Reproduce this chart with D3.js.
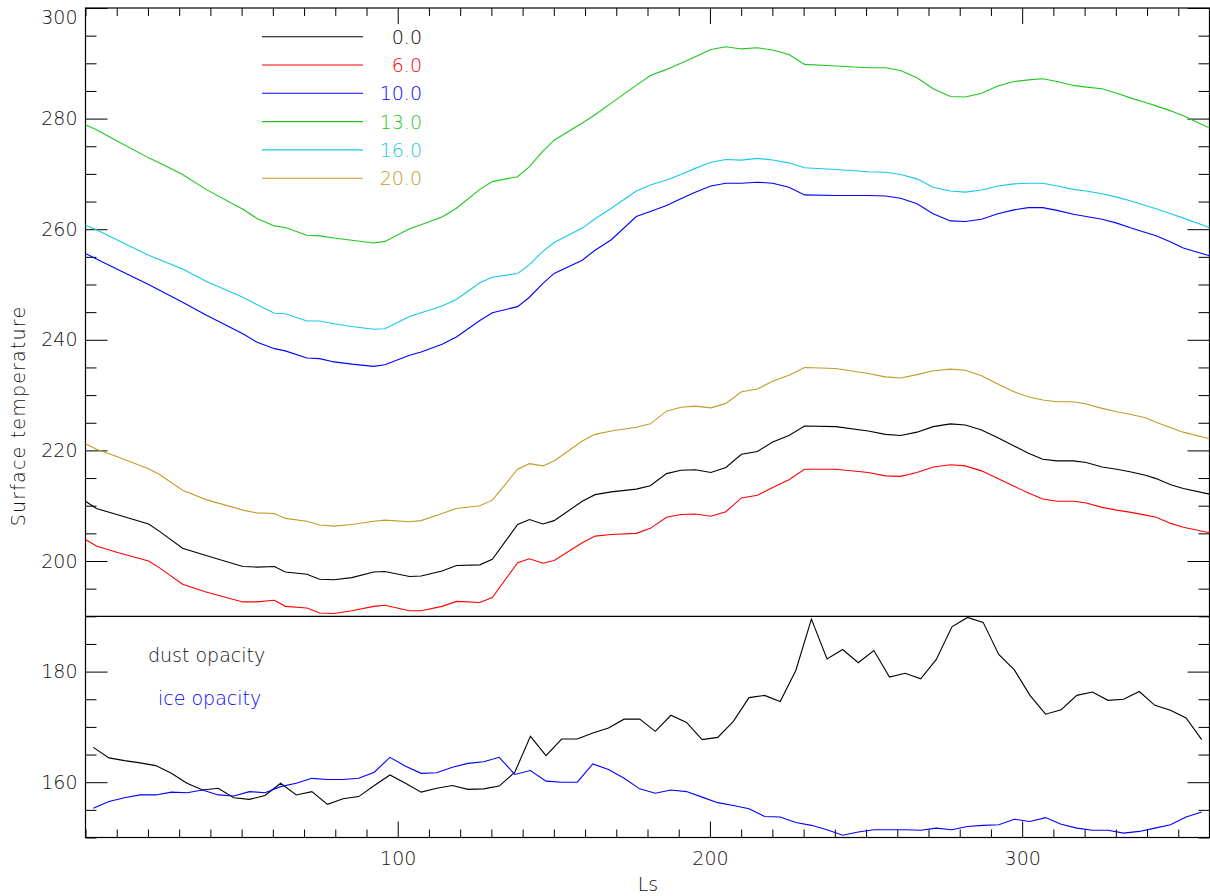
<!DOCTYPE html>
<html>
<head>
<meta charset="utf-8">
<script src="https://cdn.jsdelivr.net/npm/d3@7"></script>
<style>
  html,body{margin:0;padding:0;background:#fff;}
  svg{display:block;}
  text{font-family:'DejaVu Sans',sans-serif;font-weight:200;}
</style>
</head>
<body>
<svg width="1210" height="896"></svg>
<script>
const svg=d3.select('svg');
const width=+svg.attr('width');
const height=+svg.attr('height');
const box={left:85.5,right:1209.5,top:8,bottom:837.5};

/* upper panel: surface temperature vs Ls */
const upperLs=[0,3.5,10,20.2,23.6,31.1,38.6,50.4,54.8,60.5,64,70.9,75,79.6,85.3,92.3,95.9,103.8,107.5,114.2,
  118.8,126.3,130.3,138.4,142.2,146.5,150.1,159.1,163.2,168.4,176.4,180.9,186.1,190.7,195.3,200.3,205.1,210.1,215.2,220.1,
  225.3,230.3,240.3,250.7,256.2,261.1,266.3,271.5,277.0,281.8,287.0,292.2,297.4,302.0,306.6,311.2,316.4,320.5,325.6,330.3,
  334.9,339.5,342.9,347.6,351.6,360];
const temp00=[210.8,209.5,208.4,206.7,205.4,202.3,201.0,199.0,198.9,199.0,198.0,197.6,196.7,196.6,197.0,198.0,198.1,197.2,197.3,198.2,
  199.2,199.3,200.3,206.6,207.5,206.7,207.3,210.8,212.0,212.5,213.0,213.6,215.8,216.4,216.5,216.0,216.9,219.3,219.8,221.5,
  222.7,224.4,224.3,223.5,222.9,222.7,223.3,224.3,224.8,224.6,223.7,222.3,220.8,219.5,218.4,218.1,218.1,217.8,217.0,216.6,
  216.1,215.5,214.9,213.8,213.1,212.1];
const temp06=[203.9,202.7,201.6,200.0,198.8,195.8,194.4,192.6,192.6,192.9,191.8,191.5,190.6,190.5,191.0,191.8,192.0,191.0,191.0,191.8,
  192.7,192.5,193.4,199.7,200.4,199.6,200.1,203.3,204.5,204.8,205.0,205.9,207.9,208.4,208.5,208.1,208.9,211.4,211.9,213.3,
  214.7,216.6,216.6,216.0,215.4,215.3,216.0,217.0,217.4,217.2,216.3,214.9,213.5,212.3,211.2,210.8,210.8,210.5,209.7,209.2,
  208.8,208.3,207.9,206.8,206.1,205.1];
const temp10=[255.6,254.6,252.8,250.0,249.0,246.8,244.5,241.1,239.6,238.4,238.0,236.7,236.6,236.0,235.6,235.2,235.5,237.2,237.8,239.2,
  240.5,243.5,244.9,246.0,247.7,250.2,252.0,254.4,256.2,258.1,262.3,263.2,264.3,265.5,266.7,267.8,268.3,268.3,268.5,268.3,
  267.6,266.2,266.1,266.1,266.0,265.6,264.6,262.8,261.5,261.4,261.8,262.8,263.5,263.9,263.9,263.4,262.7,262.3,261.8,261.1,
  260.2,259.4,258.8,257.7,256.6,255.2];
const temp13=[278.9,278.0,276.0,272.9,272.0,269.9,267.2,263.6,262.0,260.6,260.3,258.9,258.8,258.4,258.0,257.5,257.8,260.1,260.8,262.2,
  263.8,267.2,268.6,269.5,271.3,274.1,276.1,279.2,280.7,282.8,286.0,287.8,288.9,290.0,291.2,292.5,293.0,292.6,292.8,292.4,
  291.6,289.8,289.5,289.2,289.2,288.7,287.4,285.4,284.0,283.9,284.6,285.9,286.7,287.0,287.2,286.7,286.0,285.7,285.4,284.6,
  283.7,282.9,282.3,281.4,280.5,278.3];
const temp16=[260.7,259.9,258.1,255.3,254.5,252.8,250.6,247.7,246.4,244.8,244.7,243.4,243.4,242.9,242.4,241.9,242.0,244.2,244.9,246.1,
  247.3,250.3,251.3,252.0,253.6,256.0,257.6,260.2,261.9,263.8,266.9,268.0,268.9,269.9,271.0,272.1,272.6,272.5,272.8,272.5,
  272.0,271.1,270.8,270.4,270.3,269.9,269.1,267.6,266.9,266.7,267.1,267.8,268.2,268.3,268.3,267.8,267.2,266.9,266.4,265.8,
  265.1,264.3,263.7,262.8,262.0,260.3];
const temp20=[221.2,220.2,218.9,216.7,215.7,212.8,211.1,209.2,208.7,208.6,207.7,207.2,206.5,206.3,206.6,207.2,207.4,207.1,207.3,208.6,
  209.5,210.0,211.0,216.6,217.6,217.2,218.1,221.7,222.9,223.5,224.2,224.8,227.1,227.8,228.0,227.7,228.5,230.6,231.1,232.5,
  233.6,235.0,234.8,233.9,233.3,233.1,233.7,234.4,234.7,234.5,233.5,232.0,230.6,229.7,229.1,228.8,228.8,228.4,227.6,227.0,
  226.5,225.9,225.1,224.1,223.3,222.1];
const seriesNames=['0.0','6.0','10.0','13.0','16.0','20.0'];
const seriesValues=[temp00,temp06,temp10,temp13,temp16,temp20];
const seriesColors=['#000000','#ff0000','#0000ff','#1ec81e','#18c8e8','#c49a28'];

/* lower panel: opacities (plotted on the same axis) */
const lowerLs=[2.5,7.5,12.5,17.5,22.5,27.5,32.5,37.5,42.5,47.5,52.5,57.5,62.5,67.5,72.5,77.5,82.5,87.5,92.5,97.5,
  102.5,107.5,112.5,117.5,122.5,127.5,132.5,137.5,142.5,147.5,152.5,157.5,162.5,167.5,172.5,177.5,182.5,187.5,192.5,197.5,
  202.5,207.5,212.5,217.5,222.5,227.5,232.5,237.5,242.5,247.5,252.5,257.5,262.5,267.5,272.5,277.5,282.5,287.5,292.5,297.5,
  302.5,307.5,312.5,317.5,322.5,327.5,332.5,337.5,342.5,347.5,352.5,357.5];
const dustOpacity=[166.3,164.4,163.9,163.5,163.0,161.6,159.8,158.6,158.9,157.2,156.9,157.6,159.8,157.7,158.3,156.0,157.0,157.4,159.4,161.3,
  159.8,158.2,158.9,159.4,158.7,158.8,159.3,161.8,168.3,164.8,167.8,167.8,168.9,169.8,171.4,171.4,169.2,172.1,170.8,167.7,
  168.1,171.0,175.3,175.7,174.6,180.2,189.5,182.3,184.0,181.6,183.8,179.0,179.7,178.7,182.2,188.1,189.8,188.9,183.1,180.3,
  175.7,172.3,173.1,175.7,176.3,174.8,175.0,176.4,173.9,173.0,171.6,167.7];
const iceOpacity=[155.3,156.5,157.2,157.7,157.7,158.2,158.1,158.6,157.7,157.5,158.3,158.1,159.2,159.8,160.7,160.5,160.5,160.7,161.8,164.5,
  162.9,161.6,161.7,162.7,163.4,163.7,164.5,161.4,162.1,160.2,160.0,160.0,163.3,162.3,160.7,158.8,158.0,158.6,158.3,157.3,
  156.3,155.8,155.2,153.8,153.7,152.7,152.2,151.4,150.4,151.0,151.4,151.4,151.4,151.3,151.7,151.4,152.0,152.2,152.3,153.3,
  152.9,153.6,152.4,151.7,151.3,151.3,150.8,151.1,151.7,152.3,153.7,154.6];

/* ticks */
const yMajorTicks=[160,180,200,220,240,260,280,300];
const yMinorTicks=d3.range(150,301,5).filter(v=>!yMajorTicks.includes(v));
const xMajorTicks=[100,200,300];
const xMinorTicks=d3.range(0,361,10).filter(v=>!xMajorTicks.includes(v));
const panelSplit=190;

const x=d3.scaleLinear().domain([0,360]).range([box.left,box.right]);
const y=d3.scaleLinear().domain([150,300]).range([box.bottom,box.top]);

const fontSize=19;

/* axes */
const gAxes=svg.append('g');
const axisStyle=g=>{
  g.select('.domain').remove();
  g.selectAll('line').attr('stroke','#000').attr('stroke-width',1);
  g.selectAll('text').attr('fill','#111').style('font-size',fontSize+'px');
};
gAxes.append('g').attr('transform',`translate(${box.left},0)`)
  .call(d3.axisLeft(y).tickValues(yMajorTicks).tickSize(-22).tickPadding(8).tickFormat(d3.format('d')))
  .call(axisStyle)
  .call(g=>g.selectAll('.tick').filter(d=>d===300).select('text').attr('y',9.5));
gAxes.append('g').attr('transform',`translate(${box.left},0)`)
  .call(d3.axisLeft(y).tickValues(yMinorTicks).tickSize(-11).tickFormat(''))
  .call(axisStyle);
gAxes.append('g').attr('transform',`translate(${box.right},0)`)
  .call(d3.axisRight(y).tickValues(yMajorTicks).tickSize(-22).tickFormat(''))
  .call(axisStyle);
gAxes.append('g').attr('transform',`translate(${box.right},0)`)
  .call(d3.axisRight(y).tickValues(yMinorTicks).tickSize(-11).tickFormat(''))
  .call(axisStyle);
gAxes.append('g').attr('transform',`translate(0,${box.bottom})`)
  .call(d3.axisBottom(x).tickValues(xMajorTicks).tickSize(-16).tickPadding(14).tickFormat(d3.format('d')))
  .call(axisStyle)
  .call(g=>g.selectAll('text').attr('dy','0.71em'));
gAxes.append('g').attr('transform',`translate(0,${box.bottom})`)
  .call(d3.axisBottom(x).tickValues(xMinorTicks).tickSize(-8).tickFormat(''))
  .call(axisStyle);
gAxes.append('g').attr('transform',`translate(0,${box.top})`)
  .call(d3.axisTop(x).tickValues(xMajorTicks).tickSize(-16).tickFormat(''))
  .call(axisStyle);
gAxes.append('g').attr('transform',`translate(0,${box.top})`)
  .call(d3.axisTop(x).tickValues(xMinorTicks).tickSize(-8).tickFormat(''))
  .call(axisStyle);

// frame + separator between panels
svg.append('rect')
  .attr('x',box.left).attr('y',box.top)
  .attr('width',box.right-box.left).attr('height',box.bottom-box.top)
  .attr('fill','none').attr('stroke','#000').attr('stroke-width',1.2);
svg.append('line')
  .attr('x1',box.left).attr('x2',box.right)
  .attr('y1',y(panelSplit)).attr('y2',y(panelSplit))
  .attr('stroke','#000').attr('stroke-width',1.2);

/* curves */
const line=d3.line().x(d=>x(d[0])).y(d=>y(d[1]));
seriesValues.forEach((vals,i)=>{
  svg.append('path')
    .datum(upperLs.map((l,j)=>[l,vals[j]]))
    .attr('d',line)
    .attr('fill','none')
    .attr('stroke',seriesColors[i])
    .attr('stroke-width',1.1);
});
svg.append('path')
  .datum(lowerLs.map((l,j)=>[l,dustOpacity[j]]))
  .attr('d',line).attr('fill','none').attr('stroke','#000').attr('stroke-width',1.1);
svg.append('path')
  .datum(lowerLs.map((l,j)=>[l,iceOpacity[j]]))
  .attr('d',line).attr('fill','none').attr('stroke','#0000ff').attr('stroke-width',1.1);

/* legend */
const legend=svg.append('g');
seriesNames.forEach((name,i)=>{
  const ly=36.7+i*28.3;
  legend.append('line')
    .attr('x1',262).attr('x2',363).attr('y1',ly).attr('y2',ly)
    .attr('stroke',seriesColors[i]).attr('stroke-width',1.1);
  legend.append('text')
    .attr('x',422).attr('y',ly+7)
    .attr('text-anchor','end')
    .style('font-size',fontSize+'px')
    .attr('fill',seriesColors[i])
    .text(name);
});

/* panel annotations */
svg.append('text').attr('x',148).attr('y',662)
  .style('font-size',fontSize+'px').attr('fill','#111')
  .text('dust opacity');
svg.append('text').attr('x',158).attr('y',705)
  .style('font-size',fontSize+'px').attr('fill','#0000ff')
  .text('ice opacity');

/* axis titles */
svg.append('text')
  .attr('transform','translate(25,416) rotate(-90)')
  .attr('text-anchor','middle')
  .style('font-size',fontSize+'px').style('letter-spacing','1.2px').attr('fill','#111')
  .text('Surface temperature');
svg.append('text')
  .attr('x',648).attr('y',891)
  .attr('text-anchor','middle')
  .style('font-size',fontSize+'px').attr('fill','#111')
  .text('Ls');
</script>
</body>
</html>
